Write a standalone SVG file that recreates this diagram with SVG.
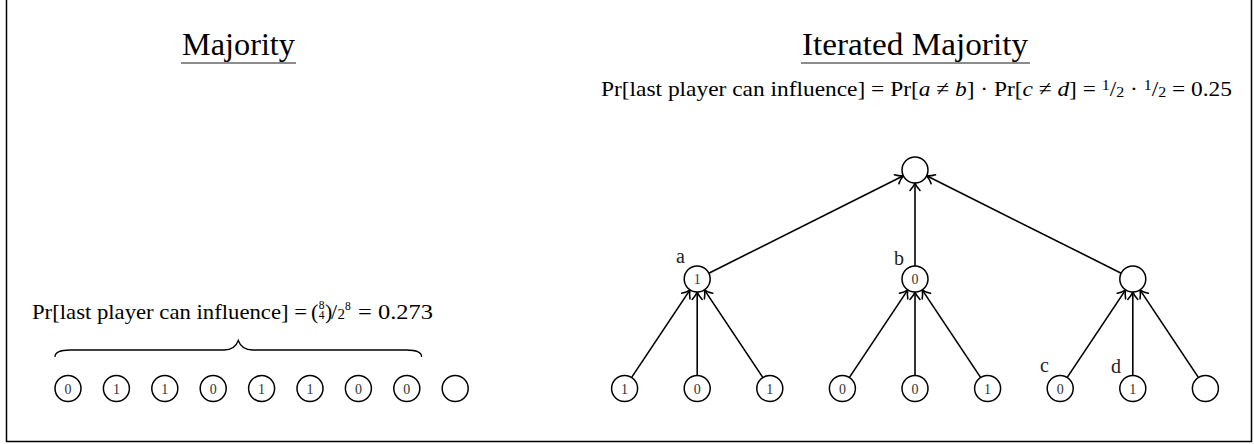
<svg xmlns="http://www.w3.org/2000/svg" width="1254" height="444" viewBox="0 0 1254 444">
<style>
text{font-family:"Liberation Serif","Times New Roman",serif;fill:#000}
.title{font-size:31px}
.f{font-size:22px}
.sm{font-size:15px}
.xs{font-size:11.5px}
.i{font-style:italic}
.lbl{font-size:20px;fill:#222}
.nt{font-size:14px;fill:#333;text-anchor:middle}
.node circle{fill:#fff;stroke:#000;stroke-width:1.5}
.ul{stroke:#666;stroke-width:1.5}
.edge{stroke:#000;stroke-width:1.6;fill:none;marker-end:url(#arr)}
</style>
<defs>
<marker id="arr" markerUnits="userSpaceOnUse" markerWidth="16" markerHeight="16" viewBox="-9 -8 11 16" refX="0" refY="0" orient="auto">
<path d="M-7.5,-5 C-4.5,-2.2 -1.8,-0.7 0,0 C-1.8,0.7 -4.5,2.2 -7.5,5" fill="none" stroke="#000" stroke-width="1.6" stroke-linecap="round"/>
</marker>
</defs>
<rect width="1254" height="444" fill="#fff"/>
<path d="M6.5,-2 V441.5 H1251.5 V-2" fill="none" stroke="#000" stroke-width="1.5"/>

<g id="titles">
<text class="title" x="182" y="55" textLength="113" lengthAdjust="spacingAndGlyphs">Majority</text>
<line class="ul" x1="181" y1="63" x2="296" y2="63"/>
<text class="title" x="802" y="55" textLength="226" lengthAdjust="spacingAndGlyphs">Iterated Majority</text>
<line class="ul" x1="801" y1="63" x2="1030" y2="63"/>
</g>

<g id="formula-left">
<text class="f" x="32" y="319" textLength="275" lengthAdjust="spacingAndGlyphs">Pr[last player can influence] =</text>
<text class="f" x="311" y="319">(</text>
<text class="xs" x="321.5" y="309" text-anchor="middle">8</text>
<text class="xs" x="321.5" y="318.5" text-anchor="middle">4</text>
<text class="f" x="325" y="319">)</text>
<text class="f" x="331" y="319">/</text>
<text class="sm" x="337.5" y="319">2</text>
<text class="xs" x="345" y="310">8</text>
<text class="f" x="358" y="319" textLength="75" lengthAdjust="spacingAndGlyphs">= 0.273</text>
</g>

<g id="brace">
<path d="M55,357 C55,352 60,350 70,350 L224,350 C232,350 236,347 238.3,340.5 C240.6,347 244.6,350 252.6,350 L406.6,350 C416.6,350 421.6,352 421.6,357" fill="none" stroke="#000" stroke-width="1.3"/>
</g>

<g id="majority-row">
<g id="m1" class="node"><circle cx="68" cy="388.5" r="13"/><text class="nt" x="68" y="393.5">0</text></g>
<g id="m2" class="node"><circle cx="116.4" cy="388.5" r="13"/><text class="nt" x="116.4" y="393.5">1</text></g>
<g id="m3" class="node"><circle cx="164.8" cy="388.5" r="13"/><text class="nt" x="164.8" y="393.5">1</text></g>
<g id="m4" class="node"><circle cx="213.2" cy="388.5" r="13"/><text class="nt" x="213.2" y="393.5">0</text></g>
<g id="m5" class="node"><circle cx="261.6" cy="388.5" r="13"/><text class="nt" x="261.6" y="393.5">1</text></g>
<g id="m6" class="node"><circle cx="310" cy="388.5" r="13"/><text class="nt" x="310" y="393.5">1</text></g>
<g id="m7" class="node"><circle cx="358.4" cy="388.5" r="13"/><text class="nt" x="358.4" y="393.5">0</text></g>
<g id="m8" class="node"><circle cx="406.8" cy="388.5" r="13"/><text class="nt" x="406.8" y="393.5">0</text></g>
<g id="m9" class="node"><circle cx="455.2" cy="388.5" r="13"/></g>
</g>

<g id="formula-right">
<text class="f" x="601" y="96" textLength="631" lengthAdjust="spacingAndGlyphs">Pr[last player can influence] = Pr[<tspan class="i">a</tspan> ≠ <tspan class="i">b</tspan>] · Pr[<tspan class="i">c</tspan> ≠ <tspan class="i">d</tspan>] = <tspan class="sm" dy="-6">1</tspan><tspan dy="6">/</tspan><tspan class="sm" dy="1">2</tspan><tspan dy="-1"> · </tspan><tspan class="sm" dy="-6">1</tspan><tspan dy="6">/</tspan><tspan class="sm" dy="1">2</tspan><tspan dy="-1"> = 0.25</tspan></text>
</g>

<g id="connectors">
<line class="edge" x1="708.83" y1="273.18" x2="903.37" y2="175.82"/>
<line class="edge" x1="915" y1="266" x2="915" y2="183"/>
<line class="edge" x1="1121.17" y1="273.18" x2="926.63" y2="175.82"/>
<line class="edge" x1="631.81" y1="377.18" x2="689.99" y2="289.82"/>
<line class="edge" x1="697.2" y1="375" x2="697.2" y2="292"/>
<line class="edge" x1="762.59" y1="377.18" x2="704.41" y2="289.82"/>
<line class="edge" x1="849.61" y1="377.18" x2="907.79" y2="289.82"/>
<line class="edge" x1="915" y1="375" x2="915" y2="292"/>
<line class="edge" x1="980.39" y1="377.18" x2="922.21" y2="289.82"/>
<line class="edge" x1="1067.41" y1="377.18" x2="1125.59" y2="289.82"/>
<line class="edge" x1="1132.8" y1="375" x2="1132.8" y2="292"/>
<line class="edge" x1="1198.19" y1="377.18" x2="1140.01" y2="289.82"/>
</g>

<g id="tree">
<g id="root" class="node"><circle cx="915" cy="170" r="13"/></g>
<g id="mid-a" class="node"><circle cx="697.2" cy="279" r="13"/><text class="nt" x="697.2" y="284">1</text></g>
<g id="mid-b" class="node"><circle cx="915" cy="279" r="13"/><text class="nt" x="915" y="284">0</text></g>
<g id="mid-c" class="node"><circle cx="1132.8" cy="279" r="13"/></g>
<g id="leaf1" class="node"><circle cx="624.6" cy="388.5" r="13"/><text class="nt" x="624.6" y="393.5">1</text></g>
<g id="leaf2" class="node"><circle cx="697.2" cy="388.5" r="13"/><text class="nt" x="697.2" y="393.5">0</text></g>
<g id="leaf3" class="node"><circle cx="769.8" cy="388.5" r="13"/><text class="nt" x="769.8" y="393.5">1</text></g>
<g id="leaf4" class="node"><circle cx="842.4" cy="388.5" r="13"/><text class="nt" x="842.4" y="393.5">0</text></g>
<g id="leaf5" class="node"><circle cx="915" cy="388.5" r="13"/><text class="nt" x="915" y="393.5">0</text></g>
<g id="leaf6" class="node"><circle cx="987.6" cy="388.5" r="13"/><text class="nt" x="987.6" y="393.5">1</text></g>
<g id="leaf7" class="node"><circle cx="1060.2" cy="388.5" r="13"/><text class="nt" x="1060.2" y="393.5">0</text></g>
<g id="leaf8" class="node"><circle cx="1132.8" cy="388.5" r="13"/><text class="nt" x="1132.8" y="393.5">1</text></g>
<g id="leaf9" class="node"><circle cx="1205.4" cy="388.5" r="13"/></g>
<text class="lbl" x="676" y="263">a</text>
<text class="lbl" x="894" y="265">b</text>
<text class="lbl" x="1040" y="372">c</text>
<text class="lbl" x="1111" y="373">d</text>
</g>
</svg>
